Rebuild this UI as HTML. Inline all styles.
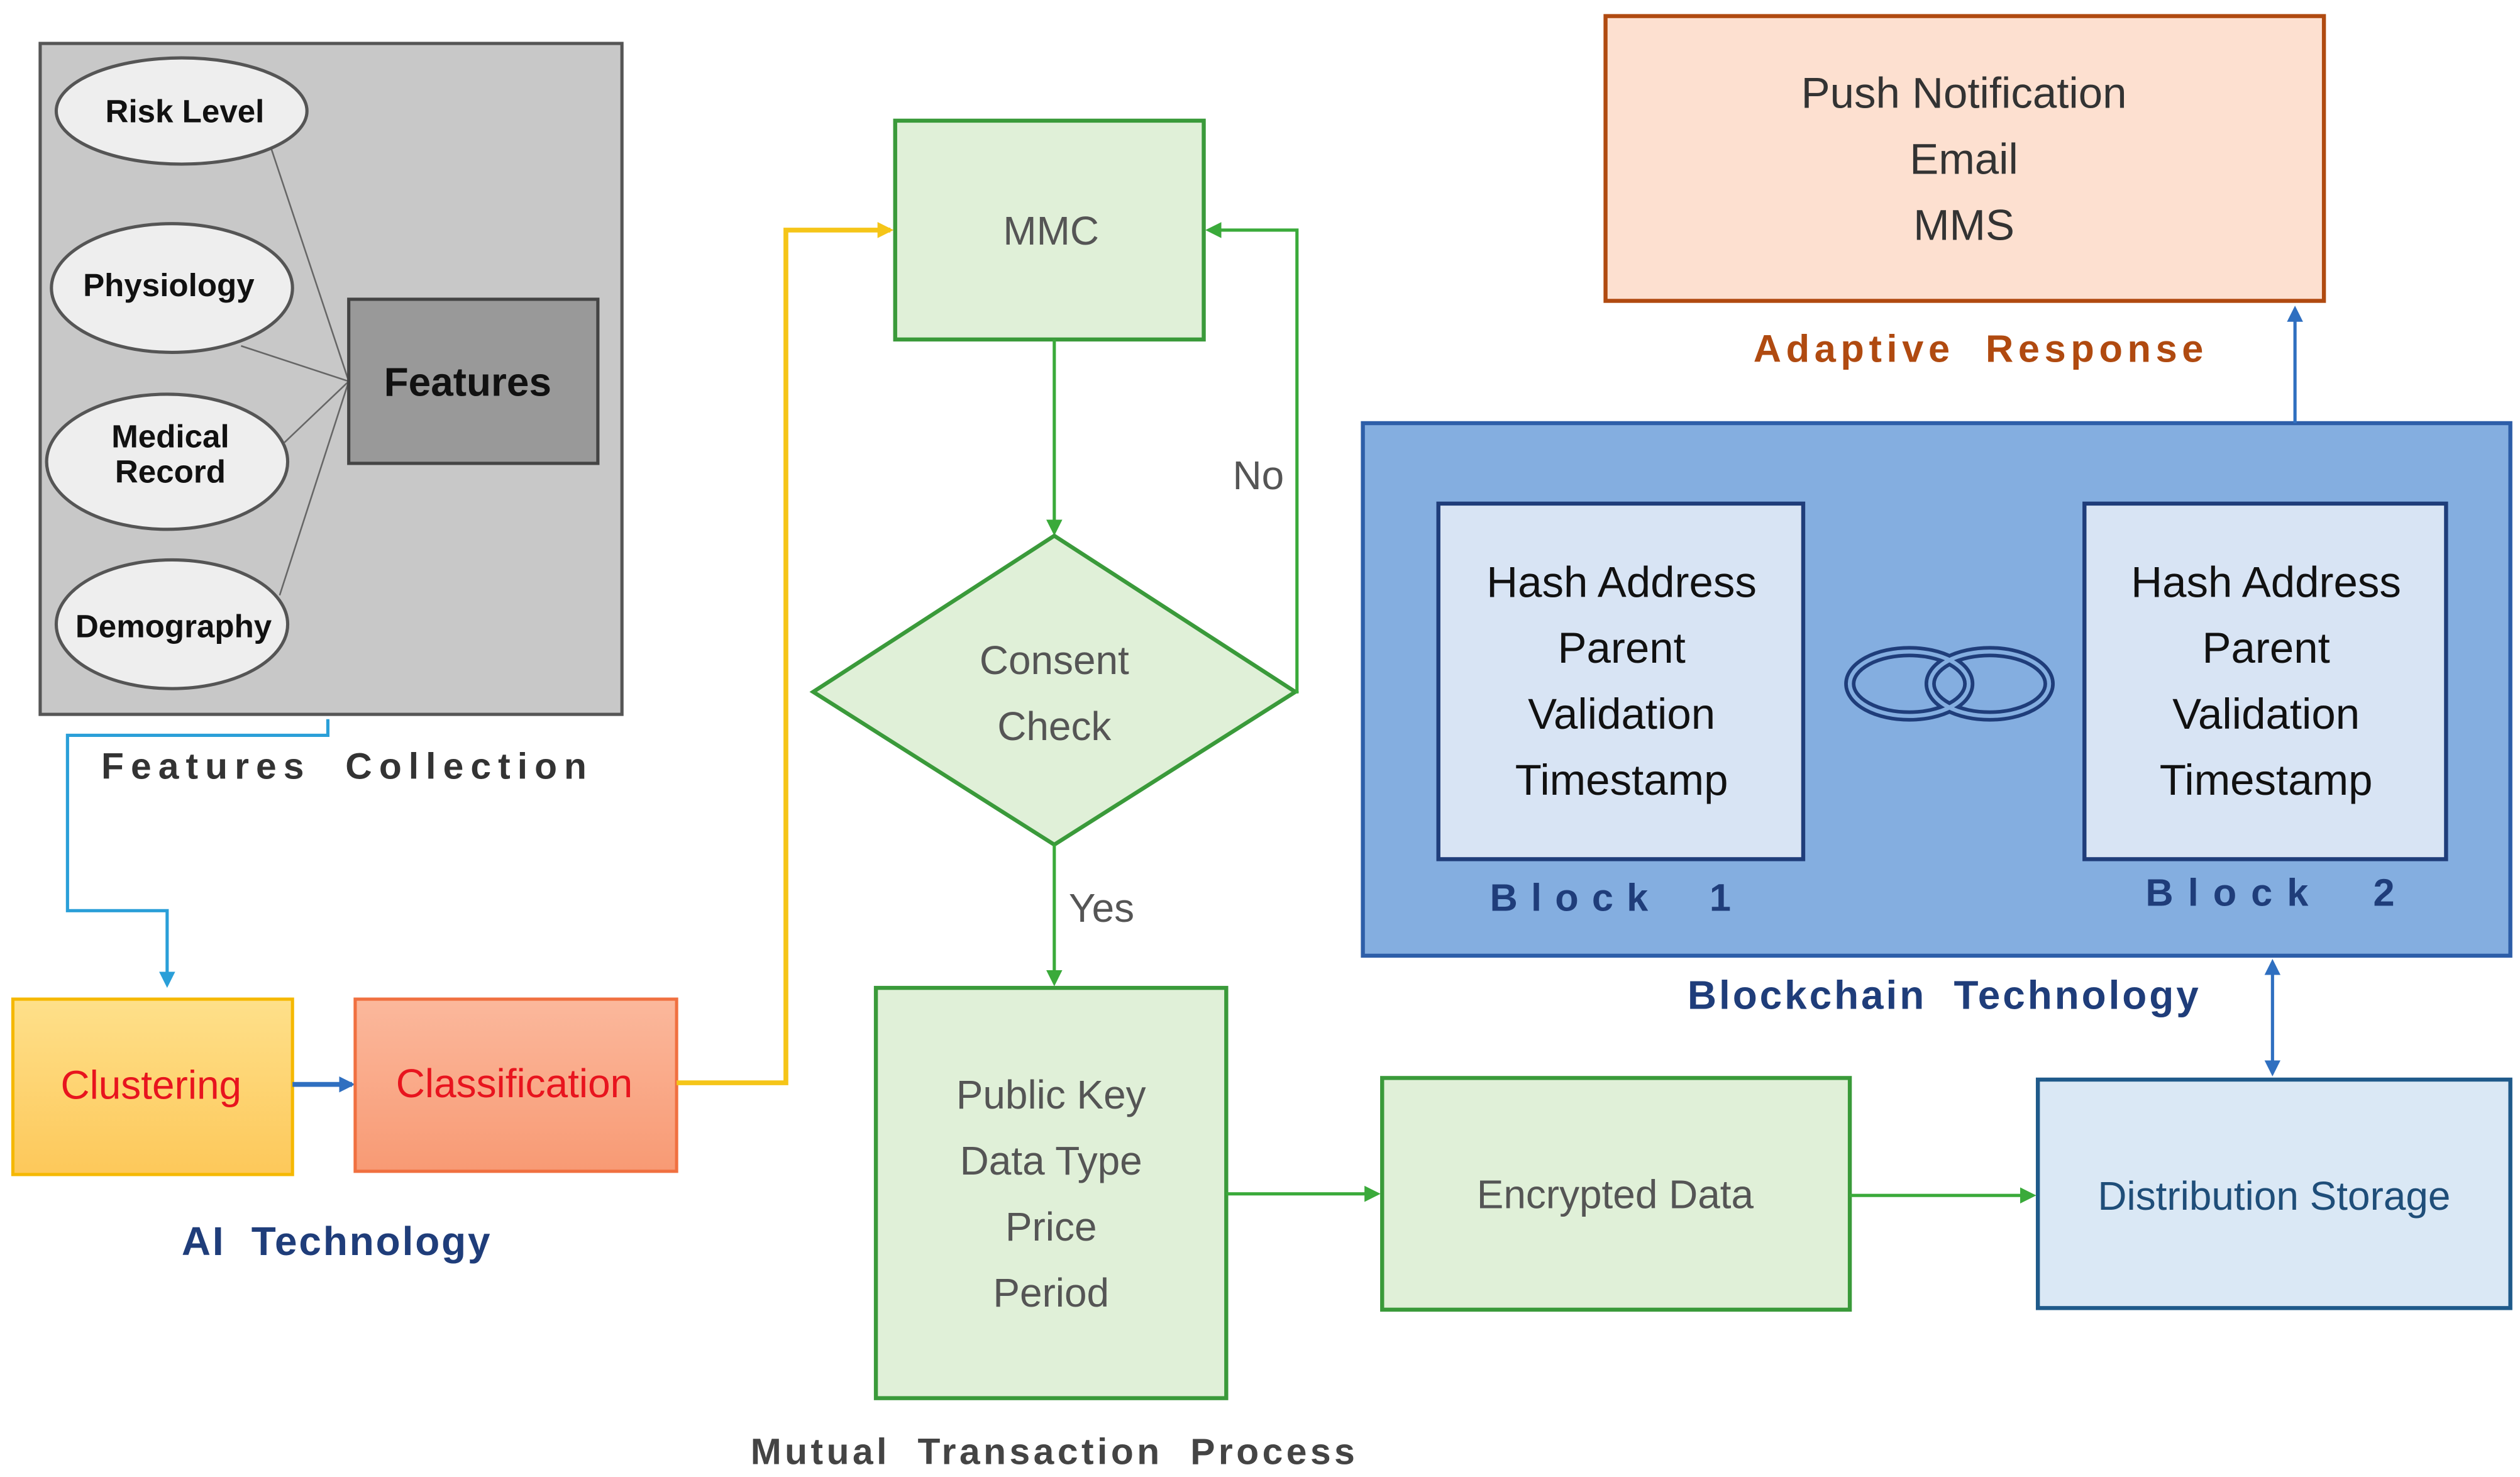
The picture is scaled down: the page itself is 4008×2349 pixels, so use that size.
<!DOCTYPE html>
<html><head><meta charset="utf-8"><style>html,body{margin:0;padding:0;background:#fff}svg{display:block}text{white-space:pre}</style></head>
<body>
<svg width="4008" height="2349" viewBox="0 0 1568 918" preserveAspectRatio="none" xmlns="http://www.w3.org/2000/svg" font-family="Liberation Sans, sans-serif">
<defs>
<marker id="ab" markerWidth="10" markerHeight="10" refX="8" refY="5" orient="auto" markerUnits="userSpaceOnUse"><path d="M0,0 L10,5 L0,10 z" fill="#2a9fd8"/></marker>
<marker id="ab2" markerWidth="10" markerHeight="10" refX="8" refY="5" orient="auto-start-reverse" markerUnits="userSpaceOnUse"><path d="M0,0 L10,5 L0,10 z" fill="#2f6fc0"/></marker>
<marker id="ay" markerWidth="10" markerHeight="10" refX="8" refY="5" orient="auto" markerUnits="userSpaceOnUse"><path d="M0,0 L10,5 L0,10 z" fill="#f5c518"/></marker>
<marker id="ag" markerWidth="10" markerHeight="10" refX="8" refY="5" orient="auto" markerUnits="userSpaceOnUse"><path d="M0,0 L10,5 L0,10 z" fill="#3aaa3a"/></marker>
<linearGradient id="gy" x1="0" y1="0" x2="0" y2="1"><stop offset="0" stop-color="#fee08a"/><stop offset="1" stop-color="#fdc85a"/></linearGradient>
<linearGradient id="go" x1="0" y1="0" x2="0" y2="1"><stop offset="0" stop-color="#fbb89c"/><stop offset="1" stop-color="#f89a74"/></linearGradient>
</defs>

<rect x="25" y="27" width="362" height="417" fill="#c8c8c8" stroke="#555" stroke-width="2"/>
<g stroke="#666" stroke-width="1">
<line x1="168" y1="90" x2="217" y2="237"/><line x1="150" y1="215" x2="217" y2="237"/>
<line x1="177" y1="275" x2="217" y2="237"/><line x1="174" y1="370" x2="217" y2="237"/>
</g>
<g fill="#eeeeee" stroke="#555" stroke-width="2">
<ellipse cx="113" cy="69" rx="78" ry="33"/><ellipse cx="107" cy="179" rx="75" ry="40"/>
<ellipse cx="104" cy="287" rx="75" ry="42"/><ellipse cx="107" cy="388" rx="72" ry="40"/>
</g>
<g font-weight="bold" font-size="20" fill="#111" text-anchor="middle">
<text x="115" y="76">Risk Level</text><text x="105" y="184">Physiology</text>
<text x="106" y="278">Medical</text><text x="106" y="300">Record</text>
<text x="108" y="396">Demography</text>
</g>
<rect x="217" y="186" width="155" height="102" fill="#999" stroke="#444" stroke-width="2"/>
<text x="291" y="246" font-size="25" font-weight="bold" text-anchor="middle" fill="#111">Features</text>
<text x="63" y="484" font-size="23" font-weight="bold" fill="#333" textLength="302" lengthAdjust="spacing">Features  Collection</text>

<polyline points="204,447 204,457 42,457 42,566 104,566 104,612" fill="none" stroke="#2a9fd8" stroke-width="2" marker-end="url(#ab)"/>

<rect x="8" y="621" width="174" height="109" fill="url(#gy)" stroke="#f5b800" stroke-width="2"/>
<text x="94" y="683" font-size="25" fill="#e8141e" text-anchor="middle">Clustering</text>
<line x1="182" y1="674" x2="219" y2="674" stroke="#2f6fc0" stroke-width="3" marker-end="url(#ab2)"/>
<rect x="221" y="621" width="200" height="107" fill="url(#go)" stroke="#f07040" stroke-width="2"/>
<text x="320" y="682" font-size="25" fill="#e8141e" text-anchor="middle">Classification</text>
<text x="113" y="780" font-size="25" font-weight="bold" fill="#1f3d7a" textLength="192" lengthAdjust="spacing">AI  Technology</text>

<polyline points="421,673 489,673 489,143 554,143" fill="none" stroke="#f5c518" stroke-width="3" marker-end="url(#ay)"/>

<rect x="557" y="75" width="192" height="136" fill="#e0f0d8" stroke="#3a9a3a" stroke-width="2.5"/>
<text x="654" y="152" font-size="25" fill="#555" text-anchor="middle">MMC</text>
<line x1="656" y1="211" x2="656" y2="331" stroke="#3aaa3a" stroke-width="2" marker-end="url(#ag)"/>
<polygon points="656,333 806,430 656,525 506,430" fill="#e0f0d8" stroke="#3a9a3a" stroke-width="2.5"/>
<text x="656" y="419" font-size="25" fill="#555" text-anchor="middle">Consent</text>
<text x="656" y="460" font-size="25" fill="#555" text-anchor="middle">Check</text>
<polyline points="806,430 807,430 807,143 752,143" fill="none" stroke="#3aaa3a" stroke-width="2" marker-end="url(#ag)"/>
<text x="767" y="304" font-size="25" fill="#555">No</text>
<line x1="656" y1="525" x2="656" y2="611" stroke="#3aaa3a" stroke-width="2" marker-end="url(#ag)"/>
<text x="665" y="573" font-size="25" fill="#555">Yes</text>
<rect x="545" y="614" width="218" height="255" fill="#e0f0d8" stroke="#3a9a3a" stroke-width="2.5"/>
<g font-size="25" fill="#555" text-anchor="middle">
<text x="654" y="689">Public Key</text><text x="654" y="730">Data Type</text>
<text x="654" y="771">Price</text><text x="654" y="812">Period</text>
</g>
<text x="467" y="910" font-size="23" font-weight="bold" fill="#444" textLength="376" lengthAdjust="spacing">Mutual  Transaction  Process</text>
<line x1="763" y1="742" x2="857" y2="742" stroke="#3aaa3a" stroke-width="2" marker-end="url(#ag)"/>
<rect x="860" y="670" width="291" height="144" fill="#e0f0d8" stroke="#3a9a3a" stroke-width="2.5"/>
<text x="1005" y="751" font-size="25" fill="#555" text-anchor="middle">Encrypted Data</text>
<line x1="1151" y1="743" x2="1265" y2="743" stroke="#3aaa3a" stroke-width="2" marker-end="url(#ag)"/>
<rect x="1268" y="671" width="294" height="142" fill="#dae8f5" stroke="#1f5a8a" stroke-width="2.5"/>
<text x="1415" y="752" font-size="25" fill="#1f4e79" text-anchor="middle">Distribution Storage</text>

<rect x="848" y="263" width="714" height="331" fill="#84aee0" stroke="#2d5ea8" stroke-width="2.5"/>
<rect x="895" y="313" width="227" height="221" fill="#d8e4f4" stroke="#1f3d7a" stroke-width="2.5"/>
<rect x="1297" y="313" width="225" height="221" fill="#d8e4f4" stroke="#1f3d7a" stroke-width="2.5"/>
<g font-size="27" fill="#111" text-anchor="middle">
<text x="1009" y="371">Hash Address</text><text x="1009" y="412">Parent</text><text x="1009" y="453">Validation</text><text x="1009" y="494">Timestamp</text>
<text x="1410" y="371">Hash Address</text><text x="1410" y="412">Parent</text><text x="1410" y="453">Validation</text><text x="1410" y="494">Timestamp</text>
</g>
<g fill="none" stroke="#1f3d7a">
<ellipse cx="1188" cy="425" rx="37" ry="20" stroke-width="7"/><ellipse cx="1238" cy="425" rx="37" ry="20" stroke-width="7"/>
</g>
<g fill="none" stroke="#84aee0">
<ellipse cx="1188" cy="425" rx="37" ry="20" stroke-width="2.5"/><ellipse cx="1238" cy="425" rx="37" ry="20" stroke-width="2.5"/>
</g>
<text x="927" y="566" font-size="24" font-weight="bold" fill="#1f3d7a" textLength="150" lengthAdjust="spacing">Block  1</text>
<text x="1335" y="563" font-size="24" font-weight="bold" fill="#1f3d7a" textLength="155" lengthAdjust="spacing">Block  2</text>
<text x="1050" y="627" font-size="25" font-weight="bold" fill="#1f3d7a" textLength="318" lengthAdjust="spacing">Blockchain  Technology</text>
<line x1="1414" y1="598" x2="1414" y2="667" stroke="#2f6fc0" stroke-width="2" marker-start="url(#ab2)" marker-end="url(#ab2)"/>
<line x1="1428" y1="263" x2="1428" y2="192" stroke="#2f6fc0" stroke-width="2" marker-end="url(#ab2)"/>

<rect x="999" y="10" width="447" height="177" fill="#fde0d0" stroke="#b04a10" stroke-width="2.5"/>
<g font-size="27" fill="#333" text-anchor="middle">
<text x="1222" y="67">Push Notification</text><text x="1222" y="108">Email</text><text x="1222" y="149">MMS</text>
</g>
<text x="1091" y="225" font-size="24" font-weight="bold" fill="#b04a10" textLength="280" lengthAdjust="spacing">Adaptive  Response</text>
</svg>
</body></html>
